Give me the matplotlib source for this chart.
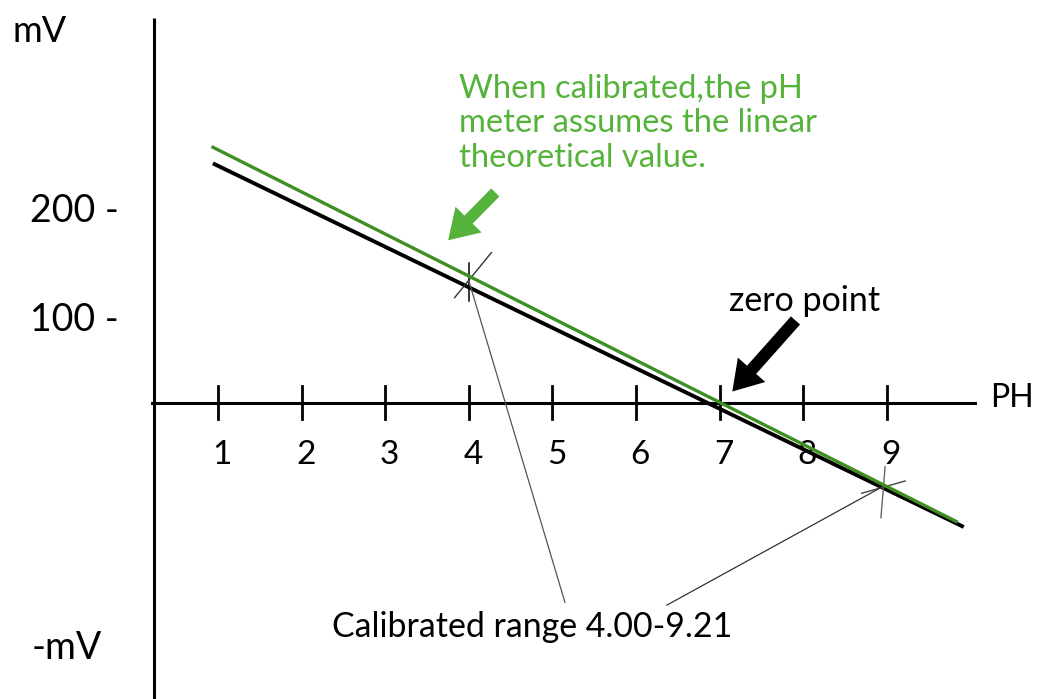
import matplotlib
matplotlib.use("Agg")
import matplotlib.pyplot as plt
from matplotlib.patches import FancyArrowPatch

GREEN_TXT = "#55b23a"
GREEN_LINE = "#3f8f25"
FONT = "Lato"

# pH axis ticks
ph_ticks = [1, 2, 3, 4, 5, 6, 7, 8, 9]
tick_labels = ["1", "2", "3", "4", "5", "6", "7", "8", "9"]

# measured electrode line (black) and theoretical line (green), pH vs mV
black_ph = [0.96, 9.90]
black_mv = [254, -131]
green_ph = [0.94, 9.83]
green_mv = [272, -126]

# calibration points
cal_ph = [4.0, 8.97]
cal_mv = [130, -88]

fig = plt.figure(figsize=(10.38, 6.99), dpi=100)
ax = fig.add_axes([0, 0, 1, 1])
ax.set_xlim(-1.608, 10.809)
ax.set_ylim(-314.9, 428.7)
ax.axis("off")
fig.patch.set_facecolor("white")

# axes
ax.plot([0.234, 0.234], [409.6, -314.9], color="black", lw=2.2, solid_capstyle="butt")
ax.plot([0.21, 10.06], [0, 0], color="black", lw=2.2)
for p, lab in zip(ph_ticks, tick_labels):
    ax.plot([p, p], [18, -17], color="black", lw=2)
    ax.text(p + 0.05, -55, lab, ha="center", va="center", fontsize=24, family=FONT)

# lines
ax.plot(green_ph, green_mv, color=GREEN_LINE, lw=2.4, zorder=3)
ax.plot(black_ph, black_mv, color="black", lw=2.8, zorder=2)

# crosses at calibration points
ax.plot([cal_ph[0], cal_ph[0]], [cal_mv[0] + 19, cal_mv[0] - 22], color="black", lw=1.1)
ax.plot([cal_ph[0] - 0.17, cal_ph[0] + 0.27], [cal_mv[0] - 18, cal_mv[0] + 30], color="#333333", lw=1)
ax.plot([cal_ph[1] + 0.01, cal_ph[1] - 0.04], [cal_mv[1] + 20, cal_mv[1] - 34], color="#666666", lw=1)
ax.plot([cal_ph[1] - 0.27, cal_ph[1] + 0.25], [cal_mv[1] - 8, cal_mv[1] + 5], color="#444444", lw=1)

# pointer lines to the label
ax.plot([cal_ph[0], 5.15], [cal_mv[0], -212], color="#555555", lw=0.9)
ax.plot([cal_ph[1], 6.37], [cal_mv[1], -215], color="#333333", lw=0.9)

# axis labels
ax.text(-1.13, 395, "mV", ha="center", va="center", fontsize=26, family=FONT)
ax.text(-0.72, 204, "200 -", ha="center", va="center", fontsize=27, family=FONT)
ax.text(-0.72, 88, "100 -", ha="center", va="center", fontsize=27, family=FONT)
ax.text(-0.81, -261, "-mV", ha="center", va="center", fontsize=27, family=FONT)
ax.text(10.5, 5, "PH", ha="center", va="center", fontsize=23, family=FONT)

# annotations
ax.text(3.88, 350, "When calibrated,the pH\nmeter assumes the linear\ntheoretical value.",
        ha="left", va="top", fontsize=23.6, color=GREEN_TXT, family=FONT, linespacing=1.18)
ax.add_patch(FancyArrowPatch((4.34, 226), (3.73, 171),
                             arrowstyle="simple,head_width=2.4,head_length=1.9,tail_width=0.75",
                             mutation_scale=11, color=GREEN_TXT, lw=0))
ax.text(8.02, 109, "zero point", ha="center", va="center", fontsize=24.5, family=FONT)
ax.add_patch(FancyArrowPatch((7.93, 90), (7.13, 10),
                             arrowstyle="simple,head_width=2.4,head_length=1.9,tail_width=0.8",
                             mutation_scale=11, color="black", lw=0))
ax.text(4.76, -238, "Calibrated range 4.00-9.21", ha="center", va="center", fontsize=24.4, family=FONT)

plt.savefig("out.png", dpi=100, facecolor="white")
